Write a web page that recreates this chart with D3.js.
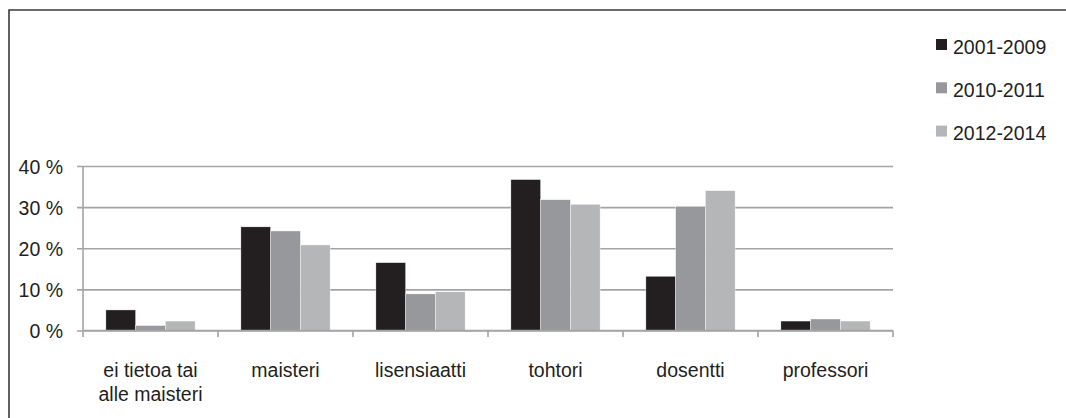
<!DOCTYPE html>
<html>
<head>
<meta charset="utf-8">
<script src="https://cdn.jsdelivr.net/npm/d3@7"></script>
<style>
  html, body { margin: 0; padding: 0; background: #fff; }
  svg { display: block; }
  text { font-family: "Liberation Sans", Arial, Helvetica, sans-serif; fill: #231f20; }
</style>
</head>
<body>
<svg id="chart" width="1066" height="418"></svg>
<script>
// Koulutustaso / oppiarvo, osuus (%) kolmella ajanjaksolla
const categories = [["ei tietoa tai", "alle maisteri"], ["maisteri"], ["lisensiaatti"], ["tohtori"], ["dosentti"], ["professori"]];
const seriesNames = ["2001-2009", "2010-2011", "2012-2014"];
const values2001_2009 = [5.0, 25.2, 16.5, 36.7, 13.2, 2.3];
const values2010_2011 = [1.2, 24.2, 8.9, 31.8, 30.2, 2.8];
const values2012_2014 = [2.3, 20.8, 9.4, 30.7, 34.0, 2.3];
const yTicks = [0, 10, 20, 30, 40];
const seriesColors = ["#231f20", "#97989b", "#b5b6b8"];

const allSeries = [values2001_2009, values2010_2011, values2012_2014];
const svg = d3.select("#chart");

// Frame around the figure
svg.append("path")
  .attr("d", "M9,418 V10 H1066")
  .attr("fill", "none")
  .attr("stroke", "#3a3a3a")
  .attr("stroke-width", 1.6);

const plot = { left: 83, right: 893, top: 166, bottom: 330.5 };

const catKeys = categories.map(c => c.join(" "));
const x0 = d3.scaleBand().domain(catKeys).range([plot.left, plot.right]).padding(0);
const x1 = d3.scaleBand().domain(seriesNames).range([0, x0.bandwidth()])
  .paddingInner(0).paddingOuter(0.77);
const y = d3.scaleLinear().domain([0, 40]).range([plot.bottom, plot.top]);

const gridColor = "#a4a4a4";

// Horizontal gridlines with small outward ticks
const yAxis = d3.axisLeft(y).tickValues(yTicks).tickSize(-(plot.right - plot.left)).tickSizeOuter(0)
  .tickFormat(d => d + " %").tickPadding(20);
const gy = svg.append("g").attr("transform", `translate(${plot.left},0)`).call(yAxis);
gy.select(".domain").remove();
gy.selectAll(".tick line")
  .attr("x1", -6)
  .attr("stroke", gridColor)
  .attr("stroke-width", 1.6);
gy.selectAll(".tick text")
  .attr("font-size", "19.5px")
  .attr("x", -20)
  .attr("dy", "0.36em");

// Vertical axis line
svg.append("line")
  .attr("x1", plot.left).attr("x2", plot.left)
  .attr("y1", plot.top).attr("y2", plot.bottom)
  .attr("stroke", gridColor).attr("stroke-width", 1.6);

// Bars
const groups = svg.append("g").selectAll("g")
  .data(catKeys)
  .join("g")
  .attr("transform", d => `translate(${x0(d)},0)`);

groups.selectAll("rect")
  .data((d, i) => seriesNames.map((s, j) => ({ s, v: allSeries[j][i], c: seriesColors[j] })))
  .join("rect")
  .attr("x", d => x1(d.s))
  .attr("width", x1.bandwidth())
  .attr("y", d => y(d.v))
  .attr("height", d => y(0) - y(d.v))
  .attr("fill", d => d.c)
  .attr("stroke", "#ffffff")
  .attr("stroke-width", 0.4);

// Category axis with boundary ticks
const boundaries = catKeys.map(k => x0(k)).concat([plot.right]);
svg.append("line")
  .attr("x1", plot.left).attr("x2", plot.right)
  .attr("y1", y(0)).attr("y2", y(0))
  .attr("stroke", gridColor).attr("stroke-width", 1.6);
svg.append("g").selectAll("line")
  .data(boundaries)
  .join("line")
  .attr("x1", d => d).attr("x2", d => d)
  .attr("y1", y(0)).attr("y2", y(0) + 6.5)
  .attr("stroke", gridColor).attr("stroke-width", 1.6);

// Category labels
const labels = svg.append("g").selectAll("text")
  .data(categories)
  .join("text")
  .attr("x", (d, i) => x0(catKeys[i]) + x0.bandwidth() / 2)
  .attr("y", 377)
  .attr("text-anchor", "middle")
  .attr("font-size", "19.5px");
labels.selectAll("tspan")
  .data(d => d)
  .join("tspan")
  .attr("x", function () { return d3.select(this.parentNode).attr("x"); })
  .attr("dy", (d, i) => i === 0 ? 0 : 23.5)
  .text(d => d);

// Legend
const legend = svg.append("g").selectAll("g")
  .data(seriesNames)
  .join("g")
  .attr("transform", (d, i) => `translate(936,${53.5 + i * 43.3})`);
legend.append("rect")
  .attr("x", 0).attr("y", -14.5)
  .attr("width", 11).attr("height", 11)
  .attr("fill", (d, i) => seriesColors[i]);
legend.append("text")
  .attr("x", 17).attr("y", 0)
  .attr("font-size", "19.5px")
  .text(d => d);
</script>
</body>
</html>
